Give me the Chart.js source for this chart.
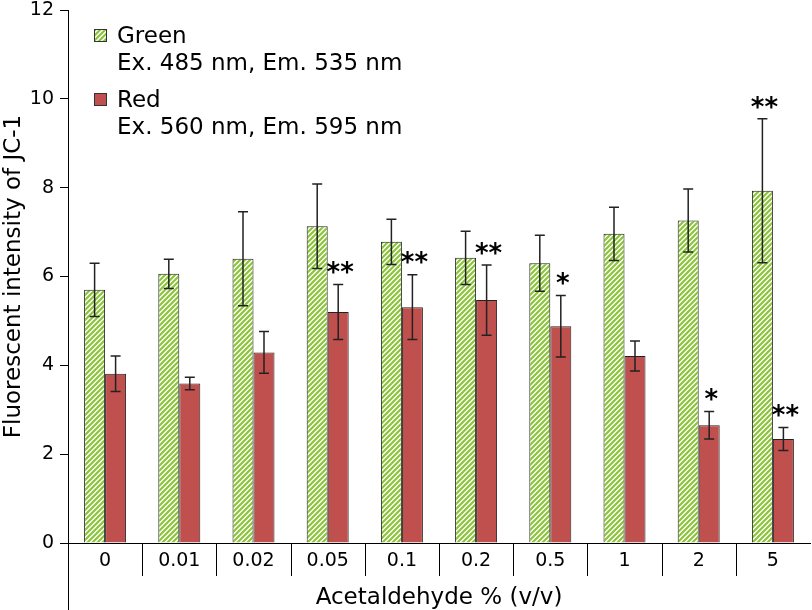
<!DOCTYPE html>
<html>
<head>
<meta charset="utf-8">
<script src="https://cdn.jsdelivr.net/npm/chart.js@4.4.0/dist/chart.umd.min.js"></script>
<style>
  html, body { margin: 0; padding: 0; background: #fff; }
  #wrap { width: 812px; height: 610px; }
</style>
</head>
<body>
<div id="wrap"><canvas id="chart" width="812" height="610"></canvas></div>
<script>
const categories = ['0', '0.01', '0.02', '0.05', '0.1', '0.2', '0.5', '1', '2', '5'];
const greenValues = [5.70, 6.06, 6.40, 7.13, 6.78, 6.42, 6.30, 6.96, 7.26, 7.93];
const greenErrors = [0.60, 0.33, 1.06, 0.95, 0.51, 0.60, 0.63, 0.60, 0.71, 1.62];
const redValues = [3.81, 3.59, 4.29, 5.20, 5.31, 5.47, 4.88, 4.21, 2.65, 2.34];
const redErrors = [0.40, 0.14, 0.47, 0.62, 0.73, 0.79, 0.69, 0.34, 0.31, 0.26];
const greenMarks = ['', '', '', '', '', '', '', '', '', '**'];
const redMarks = ['', '', '', '**', '**', '**', '*', '', '*', '**'];
const greenLegend = ['Green', 'Ex. 485 nm, Em. 535 nm'];
const redLegend = ['Red', 'Ex. 560 nm, Em. 595 nm'];

const FONT = 'DejaVu Sans';

// diagonal stripes for the green series
function makeHatch() {
    const n = 5;
    const c = document.createElement('canvas');
    c.width = n; c.height = n;
    const g = c.getContext('2d');
    g.fillStyle = '#fff';
    g.fillRect(0, 0, n, n);
    g.strokeStyle = '#8cc43c';
    g.lineWidth = 2.2;
    g.beginPath();
    g.moveTo(-n, n); g.lineTo(n, -n);
    g.moveTo(0, n); g.lineTo(n, 0);
    g.moveTo(0, 2 * n); g.lineTo(2 * n, 0);
    g.stroke();
    return g.createPattern(c, 'repeat');
}
const hatch = makeHatch();
const redColor = '#c0504d';

const allErrors = [greenErrors, redErrors];
const allMarks = [greenMarks, redMarks];

const errorBars = {
    id: 'errorBars',
    afterDatasetsDraw(chart) {
        const ctx = chart.ctx;
        const y = chart.scales.y;
        ctx.save();
        chart.data.datasets.forEach((ds, di) => {
            const meta = chart.getDatasetMeta(di);
            meta.data.forEach((bar, i) => {
                const v = ds.data[i];
                const e = allErrors[di][i];
                const top = y.getPixelForValue(v + e);
                const bot = y.getPixelForValue(v - e);
                ctx.strokeStyle = '#222';
                ctx.lineWidth = 1.5;
                ctx.beginPath();
                ctx.moveTo(bar.x, top); ctx.lineTo(bar.x, bot);
                ctx.moveTo(bar.x - 5, top); ctx.lineTo(bar.x + 5, top);
                ctx.moveTo(bar.x - 5, bot); ctx.lineTo(bar.x + 5, bot);
                ctx.stroke();
                const mark = allMarks[di][i];
                if (mark) {
                    ctx.fillStyle = '#000';
                    ctx.font = 'bold 26px ' + FONT;
                    ctx.textAlign = 'center';
                    ctx.textBaseline = 'middle';
                    ctx.fillText(mark, bar.x + 2, top - 10);
                }
            });
        });
        ctx.restore();
    }
};

const axisExtras = {
    id: 'axisExtras',
    afterDraw(chart) {
        const ctx = chart.ctx;
        const x = chart.scales.x;
        const area = chart.chartArea;
        ctx.save();
        ctx.strokeStyle = '#000';
        ctx.lineWidth = 1;
        ctx.beginPath();
        // left axis runs down past the category boxes
        ctx.moveTo(area.left + 0.5, area.bottom);
        ctx.lineTo(area.left + 0.5, 610);
        for (let i = 1; i < categories.length; i++) {
            const sx = Math.round((x.getPixelForValue(i - 1) + x.getPixelForValue(i)) / 2) + 0.5;
            ctx.moveTo(sx, area.bottom);
            ctx.lineTo(sx, area.bottom + 33);
        }
        ctx.stroke();

        // legend
        const items = [
            { fill: hatch, lines: greenLegend, top: 29 },
            { fill: redColor, lines: redLegend, top: 93 }
        ];
        ctx.font = '23px ' + FONT;
        ctx.textAlign = 'left';
        ctx.textBaseline = 'middle';
        items.forEach(it => {
            ctx.fillStyle = it.fill;
            ctx.fillRect(94, it.top, 13, 13);
            ctx.strokeStyle = '#333';
            ctx.strokeRect(94.5, it.top + 0.5, 12, 12);
            ctx.fillStyle = '#000';
            it.lines.forEach((t, k) => {
                ctx.fillText(t, 117, it.top + 8 + k * 27);
            });
        });
        ctx.restore();
    }
};

new Chart(document.getElementById('chart').getContext('2d'), {
    type: 'bar',
    data: {
        labels: categories,
        datasets: [{
            label: greenLegend.join(' '),
            data: greenValues,
            backgroundColor: hatch,
            borderColor: '#222',
            borderWidth: 1,
            categoryPercentage: 0.566,
            barPercentage: 1.0
        }, {
            label: redLegend.join(' '),
            data: redValues,
            backgroundColor: redColor,
            borderColor: '#222',
            borderWidth: 1,
            categoryPercentage: 0.566,
            barPercentage: 1.0
        }]
    },
    options: {
        responsive: false,
        animation: false,
        layout: { padding: { top: 10, right: 2, left: 0, bottom: 0 } },
        plugins: {
            legend: { display: false },
            tooltip: { enabled: false }
        },
        scales: {
            x: {
                grid: { display: false, drawTicks: false },
                border: { display: true, color: '#000', width: 1 },
                ticks: { color: '#000', font: { family: FONT, size: 19 }, padding: 7, maxRotation: 0 },
                title: { display: true, text: 'Acetaldehyde % (v/v)', color: '#000', font: { family: FONT, size: 23 }, padding: { top: 0, bottom: -2 } },
                afterFit(scale) { scale.height = 67; }
            },
            y: {
                min: 0,
                max: 12,
                ticks: { stepSize: 2, color: '#000', font: { family: FONT, size: 19 }, padding: 6 },
                grid: { drawOnChartArea: false, drawTicks: true, tickLength: 8, color: '#000' },
                border: { display: true, color: '#000', width: 1 },
                title: { display: true, text: 'Fluorescent intensity of JC-1', color: '#000', font: { family: FONT, size: 23 }, padding: { top: 0, bottom: 0 } },
                afterFit(scale) {
                    scale.width = 68;
                    scale.paddingTop = 0;
                    scale.paddingBottom = 0;
                }
            }
        }
    },
    plugins: [errorBars, axisExtras]
});
</script>
</body>
</html>
